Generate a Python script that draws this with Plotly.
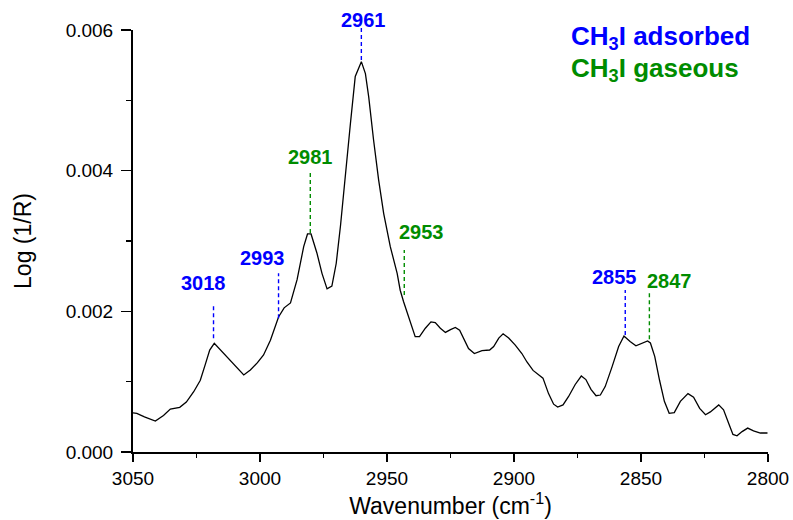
import plotly.graph_objects as go

# ---- data ----
wavenumber = [3050.0, 3048.5, 3045.5, 3041.2, 3038.0, 3035.3, 3031.6, 3029.0, 3026.1, 3023.5,
              3021.5, 3019.8, 3018.0, 3015.5, 3013.0, 3009.0, 3006.4, 3003.8, 3001.0, 2998.6,
              2995.9, 2992.7, 2990.5, 2988.0, 2985.4, 2982.8, 2981.3, 2979.9, 2977.6, 2975.6,
              2973.6, 2971.7, 2970.0, 2968.3, 2966.4, 2964.4, 2962.5, 2961.8, 2960.1, 2958.5,
              2957.2, 2955.3, 2953.3, 2951.3, 2948.7, 2946.0, 2944.8, 2943.5, 2940.8, 2938.9,
              2937.2, 2934.9, 2932.7, 2931.0, 2929.0, 2927.0, 2925.0, 2923.1, 2921.4, 2919.6,
              2917.9, 2915.6, 2912.6, 2909.6, 2908.0, 2906.0, 2904.3, 2902.1, 2899.5, 2896.9,
              2894.9, 2892.5, 2890.7, 2888.6, 2886.4, 2884.4, 2882.8, 2880.7, 2878.5, 2875.9,
              2873.5, 2871.7, 2869.7, 2867.7, 2866.0, 2864.1, 2861.4, 2858.8, 2856.7, 2854.3,
              2852.0, 2849.6, 2847.4, 2846.3, 2844.6, 2842.7, 2840.8, 2838.9, 2836.9, 2834.5,
              2831.5, 2829.3, 2826.9, 2824.6, 2822.7, 2819.4, 2817.5, 2815.5, 2813.8, 2812.2,
              2810.2, 2808.0, 2805.7, 2803.0, 2800.2]
log_1_r = [0.000555, 0.00055, 0.00050, 0.00044, 0.00052, 0.00061, 0.000635, 0.00071, 0.000857, 0.00102,
           0.00125, 0.00145, 0.001545, 0.00145, 0.001355, 0.00119, 0.001095, 0.001166, 0.00127, 0.00138,
           0.00159, 0.00192, 0.00205, 0.00212, 0.00245, 0.00292, 0.0031, 0.0031, 0.00283, 0.00254,
           0.00232, 0.00236, 0.00268, 0.00322, 0.00396, 0.00467, 0.00534, 0.00541, 0.00555, 0.00538,
           0.00505, 0.00444, 0.00387, 0.00339, 0.00292, 0.00254, 0.0023, 0.00214, 0.00183, 0.00164,
           0.00164, 0.00176, 0.00185, 0.00184, 0.00176, 0.0017, 0.00174, 0.00177, 0.00173, 0.00159,
           0.00147, 0.0014, 0.00144, 0.00145, 0.0015, 0.00162, 0.00168, 0.00162, 0.00152, 0.0014,
           0.00128, 0.00116, 0.00111, 0.00105, 0.00083, 0.00068, 0.00064, 0.00067, 0.00079, 0.00096,
           0.00108, 0.00103, 0.00089, 0.0008, 0.00081, 0.00093, 0.00121, 0.0015, 0.00165, 0.00157,
           0.00151, 0.00155, 0.00158, 0.00155, 0.00136, 0.00102, 0.00072, 0.00055, 0.00056, 0.00072,
           0.00083, 0.00078, 0.00062, 0.00053, 0.00057, 0.00067, 0.0006, 0.00041, 0.00025, 0.00023,
           0.00029, 0.00034, 0.0003, 0.00027, 0.00027]

# band assignments
band_labels = ["3018", "2993", "2981", "2961", "2953", "2855", "2847"]
band_kind = ["adsorbed", "adsorbed", "gaseous", "adsorbed", "gaseous", "adsorbed", "gaseous"]
band_line_x = [3018.3, 2992.7, 2980.2, 2960.1, 2943.2, 2856.2, 2846.7]
band_line_y0 = [0.001617, 0.00190, 0.003114, 0.005573, 0.002232, 0.001663, 0.001602]
band_line_y1 = [0.002114, 0.00254, 0.00398, 0.00607, 0.002872, 0.002303, 0.002256]
band_text_x = [3022.2, 2998.9, 2980.2, 2959.2, 2936.5, 2860.6, 2838.9]
band_text_y = [0.0024, 0.002754, 0.004194, 0.00614, 0.003132, 0.002492, 0.002436]

x_ticks = [3050, 3000, 2950, 2900, 2850, 2800]
y_ticks = [0.000, 0.002, 0.004, 0.006]
Y_MAX = 0.006

COLORS = {"adsorbed": "#0000ff", "gaseous": "#008c00"}
FONT = "Liberation Sans, Arial, sans-serif"

fig = go.Figure()
fig.add_trace(go.Scatter(x=wavenumber, y=log_1_r, mode="lines",
                         line=dict(color="black", width=1.3), showlegend=False,
                         hoverinfo="skip"))

for lab, kind, lx, y0, y1, tx, ty in zip(band_labels, band_kind, band_line_x, band_line_y0,
                                         band_line_y1, band_text_x, band_text_y):
    c = COLORS[kind]
    fig.add_shape(type="line", xref="x", yref="paper", x0=lx, x1=lx,
                  y0=y0 / Y_MAX, y1=y1 / Y_MAX,
                  line=dict(color=c, width=1.4, dash="4px,3px"))
    fig.add_annotation(x=tx, y=ty / Y_MAX, xref="x", yref="paper", text="<b>%s</b>" % lab,
                       showarrow=False, font=dict(family=FONT, size=20, color=c),
                       xanchor="center", yanchor="middle")

fig.add_annotation(xref="paper", yref="paper", x=0.686, y=0.983,
                   text="<b>CH<sub>3</sub>I adsorbed</b>", showarrow=False,
                   xanchor="left", yanchor="middle",
                   font=dict(family=FONT, size=26, color=COLORS["adsorbed"]))
fig.add_annotation(xref="paper", yref="paper", x=0.686, y=0.906,
                   text="<b>CH<sub>3</sub>I gaseous</b>", showarrow=False,
                   xanchor="left", yanchor="middle",
                   font=dict(family=FONT, size=26, color=COLORS["gaseous"]))

fig.update_layout(
    width=793, height=520,
    margin=dict(l=133, r=25, t=30, b=68),
    paper_bgcolor="white", plot_bgcolor="white",
    font=dict(family=FONT, size=19, color="black"),
    showlegend=False,
    hovermode=False,
    xaxis=dict(range=[3050, 2800], tickvals=x_ticks, ticks="outside", ticklen=8,
               tickwidth=1.5, tickcolor="black", showline=True, linewidth=2,
               linecolor="black", showgrid=False, zeroline=False, automargin=False,
               minor=dict(dtick=25, ticks="outside", ticklen=4, tickwidth=1.5,
                          tickcolor="black", showgrid=False),
               tickfont=dict(size=19),
               title=dict(text="Wavenumber (cm<sup>-1</sup>)", font=dict(size=23), standoff=10)),
    yaxis=dict(range=[0, Y_MAX], tickvals=y_ticks, tickformat=".3f", ticks="outside",
               ticklen=10, tickwidth=1.5, tickcolor="black", showline=True, linewidth=2,
               linecolor="black", showgrid=False, zeroline=False, automargin=False,
               ticklabelstandoff=4,
               minor=dict(dtick=0.001, ticks="outside", ticklen=5, tickwidth=1.5,
                          tickcolor="black", showgrid=False),
               tickfont=dict(size=19),
               title=dict(text="Log (1/R)", font=dict(size=23), standoff=28)),
)

fig.write_html("out.html", config={"displayModeBar": False, "staticPlot": True})

# remove the default 8 px page margin so the figure fills the window exactly
with open("out.html", "r", encoding="utf-8") as fh:
    html = fh.read()
html = html.replace("<body>", '<body style="margin:0;overflow:hidden">', 1)
with open("out.html", "w", encoding="utf-8") as fh:
    fh.write(html)
